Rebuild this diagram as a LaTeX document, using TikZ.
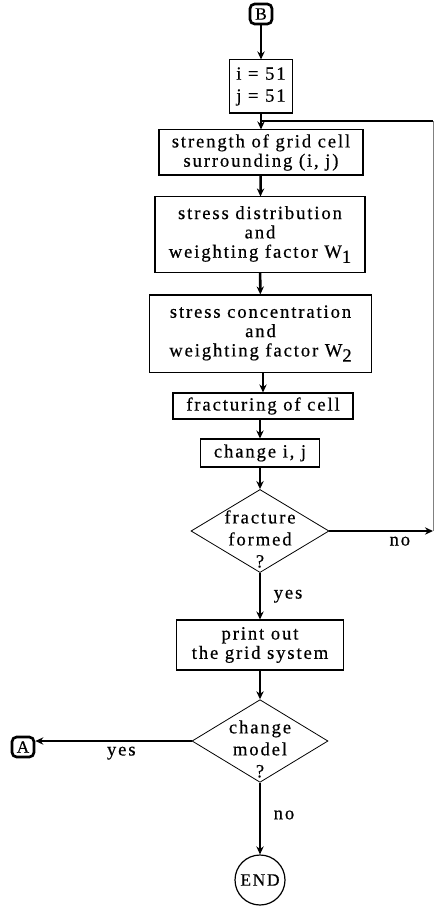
\documentclass[tikz,border=0pt]{standalone}
\usepackage{fontspec}
\setmainfont{Liberation Serif}[LetterSpace=10, FakeBold=0.5]
\usetikzlibrary{arrows.meta,shapes.geometric}

\begin{document}
\begin{tikzpicture}[
      x=0.75pt, y=-0.75pt,
      every node/.style={font=\fontsize{14pt}{14.5pt}\selectfont},
      box/.style={draw, line width=0.8pt, align=center, inner sep=0pt},
      decision/.style={draw, diamond, line width=0.6pt, inner sep=0pt},
      dtext/.style={align=center, font=\fontsize{14pt}{16.5pt}\selectfont},
      connector/.style={draw, line width=2pt, rounded corners=3.5pt, inner sep=0pt, minimum width=16.5pt, minimum height=15pt, font=\fontsize{13pt}{13pt}\selectfont},
      terminal/.style={draw, circle, line width=0.9pt, inner sep=0pt, minimum size=37.5pt, font=\fontsize{13pt}{13pt}\selectfont},
      arr/.style={-{Stealth[length=6pt, width=5.5pt]}, line width=1.9pt},
      lbl/.style={font=\fontsize{14pt}{14pt}\selectfont}
  ]
      \useasboundingbox (0,0) rectangle (435,909);

      % start and the loop over the grid
      \node[connector] (B) at (261,14) {B};
      \node[box, minimum width=47.3pt, minimum height=39.8pt] (init) at (261,86.5) {i = 51\\[2pt] j = 51};
      \node[box, minimum width=153pt, minimum height=33.8pt] (strength) at (261,152.5) {strength of grid cell\\ surrounding (i, j)};
      \node[box, minimum width=157.5pt, minimum height=56.3pt] (distrib) at (260,234.5) {stress distribution\\ and\\ weighting factor W\raisebox{-0.6ex}{1}};
      \node[box, minimum width=166.5pt, minimum height=57.8pt] (concen) at (260.5,333.5) {stress concentration\\ and\\ weighting factor W\raisebox{-0.6ex}{2}};
      \node[box, minimum width=135pt, minimum height=19.5pt] (fracturing) at (263,406) {fracturing of cell};
      \node[box, minimum width=89pt, minimum height=21pt] (change) at (260,453) {change i, j};
      \node[decision, minimum width=103.5pt, minimum height=62.3pt,
            label={[dtext, yshift=-6pt]center:{fracture\\ formed\\ ?}}] (formed) at (260,531) {};

      \draw[arr] (B) -- (init);
      \draw[arr] (init) -- (strength);
      \draw[arr] (strength) -- (distrib);
      \draw[arr] (distrib) -- (concen);
      \draw[arr] (concen.south -| fracturing.north) -- (fracturing);
      \draw[arr] (fracturing.south -| change.north) -- (change);
      \draw[arr] (change) -- (formed);

      % back to the next cell
      \coordinate (noend) at (433,531);
      \coordinate (loopup) at (433,121);
      \draw[arr] (formed.east) -- (noend) node[lbl, pos=0.68, below] {no};
      \draw[line width=0.5pt, gray] (noend) -- (loopup);
      \draw[line width=1.9pt] (loopup) -- (loopup -| strength.north);

      % output and the next model
      \node[box, minimum width=125pt, minimum height=37.5pt] (printout) at (260,645) {print out\\ the grid system};
      \node[decision, minimum width=102pt, minimum height=62pt,
            label={[dtext, yshift=-6pt]center:{change\\ model\\ ?}}] (model) at (260,741) {};
      \node[connector] (A) at (23,747) {A};
      \node[terminal] (End) at (260,880) {END};

      \draw[arr] (formed) -- node[lbl, right, xshift=6pt] {yes} (printout);
      \draw[arr] (printout) -- (model);
      \draw[arr] (model.west) -- node[lbl, below, pos=0.45] {yes} (model.west -| A.east);
      \draw[arr] (model) -- node[lbl, right, xshift=6pt, pos=0.45] {no} (End);
  \end{tikzpicture}
\end{document}
